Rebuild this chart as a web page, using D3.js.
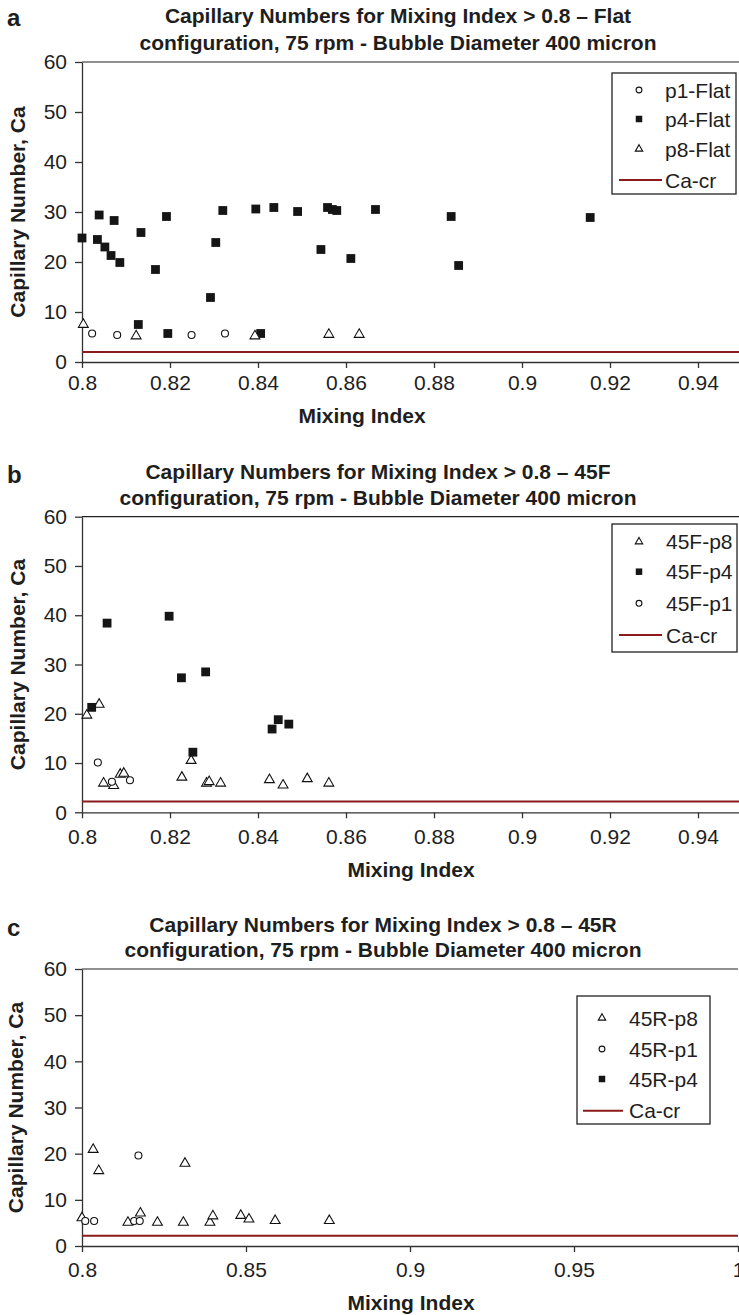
<!DOCTYPE html>
<html>
<head>
<meta charset="utf-8">
<script src="https://cdn.jsdelivr.net/npm/d3@7"></script>
<style>
  body { margin: 0; background: #fff; }
  svg text { font-family: "Liberation Sans", Arial, sans-serif; fill: #1e1e1e; }
</style>
</head>
<body>
<div id="chart"></div>
<script>
// ---- data ----
const yTicks = [0, 10, 20, 30, 40, 50, 60];
const xTicksAB = [0.8, 0.82, 0.84, 0.86, 0.88, 0.9, 0.92, 0.94];
const xTickLabelsAB = ["0.8", "0.82", "0.84", "0.86", "0.88", "0.9", "0.92", "0.94"];
const xTicksC = [0.8, 0.85, 0.9, 0.95, 1];
const xTickLabelsC = ["0.8", "0.85", "0.9", "0.95", "1"];

// panel a - Flat
const flatP1 = [[0.8023, 5.7], [0.8080, 5.4], [0.8249, 5.4], [0.8325, 5.7]];
const flatP4 = [
  [0.8000, 24.8], [0.8039, 29.4], [0.8035, 24.5], [0.8052, 23.0], [0.8066, 21.3],
  [0.8073, 28.3], [0.8086, 19.9], [0.8128, 7.5], [0.8134, 25.9], [0.8167, 18.5],
  [0.8192, 29.1], [0.8195, 5.7], [0.8292, 12.9], [0.8304, 23.9], [0.8320, 30.3],
  [0.8395, 30.6], [0.8406, 5.7], [0.8436, 30.9], [0.8490, 30.1], [0.8543, 22.5],
  [0.8558, 30.9], [0.8569, 30.5], [0.8579, 30.3], [0.8611, 20.7], [0.8667, 30.5],
  [0.8839, 29.1], [0.8856, 19.3], [0.9155, 28.9]
];
const flatP8 = [[0.8003, 7.5], [0.8123, 5.2], [0.8393, 5.2], [0.8561, 5.5], [0.8630, 5.5]];
const flatCaCr = [[0.8, 2.0], [0.95, 2.0]];

// panel b - 45F
const f45P8 = [
  [0.8011, 19.7], [0.8039, 21.9], [0.8049, 5.9], [0.8072, 5.4], [0.8087, 7.7],
  [0.8095, 7.9], [0.8227, 7.1], [0.8248, 10.5], [0.8283, 5.9], [0.8289, 6.2],
  [0.8315, 5.9], [0.8426, 6.6], [0.8457, 5.5], [0.8512, 6.8], [0.8561, 5.9]
];
const f45P4 = [
  [0.8022, 21.3], [0.8057, 38.4], [0.8198, 39.8], [0.8226, 27.3], [0.8252, 12.2],
  [0.8281, 28.5], [0.8432, 16.9], [0.8446, 18.8], [0.8470, 17.9]
];
const f45P1 = [[0.8036, 10.1], [0.8068, 6.2], [0.8109, 6.5]];
const f45CaCr = [[0.8, 2.2], [0.95, 2.2]];

// panel c - 45R
const r45P8 = [
  [0.8000, 6.1], [0.8034, 20.9], [0.8051, 16.3], [0.8140, 5.1], [0.8178, 7.1],
  [0.8230, 5.1], [0.8309, 5.1], [0.8314, 17.9], [0.8390, 5.1], [0.8399, 6.5],
  [0.8484, 6.6], [0.8509, 5.8], [0.8589, 5.5], [0.8754, 5.5]
];
const r45P1 = [[0.8010, 5.4], [0.8037, 5.4], [0.8159, 5.4], [0.8176, 5.4], [0.8172, 19.6]];
const r45P4 = [];
const r45CaCr = [[0.8, 2.2], [1.0, 2.2]];

// ---- panels ----
const panels = [
  {
    letter: "a", top: 62, bottom: 362, xDomain: [0.8, 0.95], xRight: 742,
    xTicks: xTicksAB, xLabels: xTickLabelsAB, xPad: 7,
    title: ["Capillary Numbers for Mixing Index > 0.8 \u2013 Flat",
            "configuration, 75 rpm - Bubble Diameter 400 micron"],
    titleX: 398, titleY: [23, 49.5], letterY: 26,
    xTitleX: 362, xTitleY: 423, yTitleX: 25,
    series: [
      {name: "p1-Flat", type: "circle", data: flatP1},
      {name: "p4-Flat", type: "square", data: flatP4},
      {name: "p8-Flat", type: "triangle", data: flatP8},
      {name: "Ca-cr", type: "line", data: flatCaCr}
    ],
    legend: {x: 612, y: 73, w: 124, h: 121, rows: [90, 119, 149, 180], mx: 639, tx: 665, lx: [619, 662]}
  },
  {
    letter: "b", top: 516.7, bottom: 812.3, xDomain: [0.8, 0.95], xRight: 742,
    xTicks: xTicksAB, xLabels: xTickLabelsAB, xPad: 11,
    title: ["Capillary Numbers for Mixing Index > 0.8 \u2013 45F",
            "configuration, 75 rpm - Bubble Diameter 400 micron"],
    titleX: 378, titleY: [479, 505], letterY: 483,
    xTitleX: 411, xTitleY: 877, yTitleX: 25,
    series: [
      {name: "45F-p8", type: "triangle", data: f45P8},
      {name: "45F-p4", type: "square", data: f45P4},
      {name: "45F-p1", type: "circle", data: f45P1},
      {name: "Ca-cr", type: "line", data: f45CaCr}
    ],
    legend: {x: 612, y: 524, w: 125, h: 128, rows: [541.7, 571.7, 603.3, 635], mx: 639, tx: 666, lx: [619, 662]}
  },
  {
    letter: "c", top: 969, bottom: 1246, xDomain: [0.8, 1.0], xRight: 738,
    xTicks: xTicksC, xLabels: xTickLabelsC, xPad: 10,
    title: ["Capillary Numbers for Mixing Index > 0.8 \u2013 45R",
            "configuration, 75 rpm - Bubble Diameter 400 micron"],
    titleX: 383, titleY: [931.7, 957], letterY: 936,
    xTitleX: 411, xTitleY: 1310, yTitleX: 23,
    series: [
      {name: "45R-p8", type: "triangle", data: r45P8},
      {name: "45R-p1", type: "circle", data: r45P1},
      {name: "45R-p4", type: "square", data: r45P4},
      {name: "Ca-cr", type: "line", data: r45CaCr}
    ],
    legend: {x: 577, y: 996, w: 133, h: 128, rows: [1018, 1049, 1079, 1110.7], mx: 602, tx: 629, lx: [583, 623]}
  }
];

const W = 739, H = 1315, left = 82;
const axisColor = "#333", caColor = "#8b1a1a";

const svg = d3.select("#chart").append("svg")
    .attr("width", W)
    .attr("height", H);

function marker(sel, type, big) {
  if (type === "circle") {
    sel.append("circle").attr("r", big ? 3.5 : 2.9)
        .attr("fill", "#fff").attr("stroke", "#111").attr("stroke-width", 1.1);
  } else if (type === "square") {
    const s = big ? 8.8 : 6.5;
    sel.append("rect").attr("x", -s / 2).attr("y", -s / 2).attr("width", s).attr("height", s)
        .attr("fill", "#151515");
  } else if (type === "triangle") {
    sel.append("path").attr("d", d3.symbol(d3.symbolTriangle, big ? 42 : 24)())
        .attr("fill", "#fff").attr("stroke", "#111").attr("stroke-width", 1.1);
  }
}

panels.forEach(p => {
  const g = svg.append("g");

  const x = d3.scaleLinear().domain(p.xDomain).range([left, p.xRight]);
  const y = d3.scaleLinear().domain([0, 60]).range([p.bottom, p.top]);

  // top frame line
  g.append("line")
      .attr("x1", left).attr("x2", p.xRight)
      .attr("y1", p.top).attr("y2", p.top)
      .attr("stroke", "#222").attr("stroke-width", 1.2);

  // y axis
  const yAxis = g.append("g")
      .attr("transform", `translate(${left},0)`)
      .call(d3.axisLeft(y).tickValues(yTicks).tickSize(7).tickSizeOuter(0).tickPadding(8));
  yAxis.selectAll("path, line").attr("stroke", axisColor).attr("stroke-width", 1.3);
  yAxis.selectAll("text").attr("font-size", 21).attr("fill", "#1e1e1e")
      .style("font-family", '"Liberation Sans", Arial, sans-serif');

  // x axis
  const xAxis = g.append("g")
      .attr("transform", `translate(0,${p.bottom})`)
      .call(d3.axisBottom(x).tickValues(p.xTicks)
          .tickFormat((d, i) => p.xLabels[i])
          .tickSize(6).tickSizeOuter(0).tickPadding(p.xPad));
  xAxis.selectAll("path, line").attr("stroke", axisColor).attr("stroke-width", 1.3);
  xAxis.selectAll("text").attr("font-size", 21).attr("fill", "#1e1e1e")
      .style("font-family", '"Liberation Sans", Arial, sans-serif');

  // series
  p.series.forEach(s => {
    if (s.type === "line") {
      g.append("path")
          .datum(s.data)
          .attr("d", d3.line().x(d => x(d[0])).y(d => y(d[1])))
          .attr("fill", "none")
          .attr("stroke", caColor)
          .attr("stroke-width", 2);
    }
  });
  p.series.forEach(s => {
    if (s.type === "line") return;
    g.append("g").selectAll("g")
        .data(s.data)
        .join("g")
        .attr("transform", d => `translate(${x(d[0])},${y(d[1])})`)
        .each(function() { marker(d3.select(this), s.type, true); });
  });

  // legend
  const L = p.legend;
  const lg = g.append("g");
  lg.append("rect")
      .attr("x", L.x).attr("y", L.y).attr("width", L.w).attr("height", L.h)
      .attr("fill", "#fff").attr("stroke", "#222").attr("stroke-width", 1.3);
  p.series.forEach((s, i) => {
    const cy = L.rows[i];
    if (s.type === "line") {
      lg.append("line").attr("x1", L.lx[0]).attr("x2", L.lx[1])
          .attr("y1", cy).attr("y2", cy)
          .attr("stroke", caColor).attr("stroke-width", 2);
    } else {
      marker(lg.append("g").attr("transform", `translate(${L.mx},${cy})`), s.type, false);
    }
    lg.append("text")
        .attr("x", L.tx).attr("y", cy + 7.5)
        .attr("font-size", 21)
        .text(s.name);
  });

  // titles
  p.title.forEach((t, i) => {
    g.append("text")
        .attr("x", p.titleX).attr("y", p.titleY[i])
        .attr("text-anchor", "middle")
        .attr("font-size", 21).attr("font-weight", "bold")
        .text(t);
  });
  g.append("text")
      .attr("x", 7).attr("y", p.letterY)
      .attr("font-size", 24).attr("font-weight", "bold")
      .text(p.letter);

  g.append("text")
      .attr("x", p.xTitleX).attr("y", p.xTitleY)
      .attr("text-anchor", "middle")
      .attr("font-size", 21).attr("font-weight", "bold")
      .text("Mixing Index");

  g.append("text")
      .attr("transform", `translate(${p.yTitleX},${(p.top + p.bottom) / 2}) rotate(-90)`)
      .attr("text-anchor", "middle")
      .attr("font-size", 21).attr("font-weight", "bold")
      .text("Capillary Number, Ca");
});
</script>
</body>
</html>
